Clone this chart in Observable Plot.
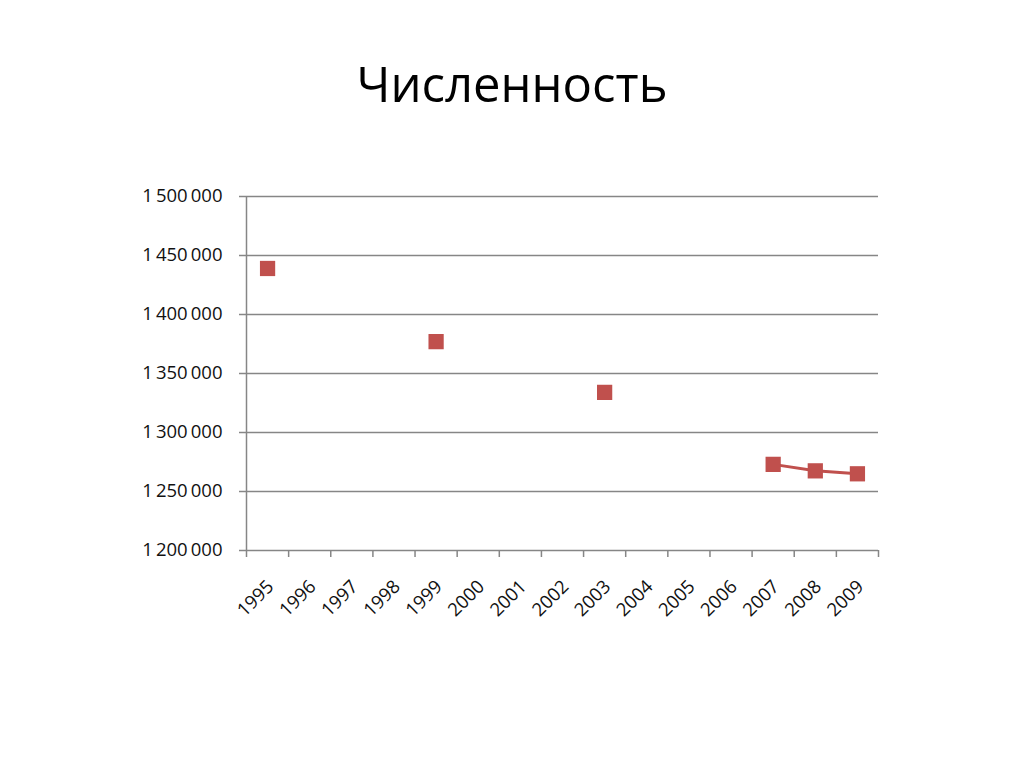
<!DOCTYPE html>
<html>
<head>
<meta charset="utf-8">
<script src="https://cdn.jsdelivr.net/npm/d3@7"></script>
<script src="https://cdn.jsdelivr.net/npm/@observablehq/plot@0.6"></script>
<style>
  html, body { margin: 0; padding: 0; background: #fff; }
  #wrap { width: 1024px; height: 767px; position: relative; overflow: hidden; }
  #title { position: absolute; left: 0; top: 0; width: 1024px; height: 140px; text-align: center;
           font-family: "Open Sans", sans-serif; font-size: 49px; line-height: 1; color: #000; }
  #title span { position: absolute; left: 0; right: 0; top: 59px; }
  #chart { position: absolute; left: 0; top: 140px; }
  #chart svg text { font-size: 18.5px !important; font-family: "Open Sans", sans-serif !important; }
</style>
</head>
<body>
<div id="wrap">
  <div id="title"><span>Численность</span></div>
  <div id="chart"></div>
</div>
<script>
const titleText = "Численность";
const years = [1995, 1996, 1997, 1998, 1999, 2000, 2001, 2002, 2003, 2004, 2005, 2006, 2007, 2008, 2009];
const population = [1439000, null, null, null, 1377000, null, null, null, 1334000, null, null, null, 1273000, 1267500, 1265000];
const yTicks = [1200000, 1250000, 1300000, 1350000, 1400000, 1450000, 1500000];

const data = years.map((year, i) => ({year, value: population[i]}));
const points = data.filter(d => d.value != null);
const boundaries = years.map(y => y - 0.5).concat([years[years.length - 1] + 0.5]);

const fmt = v => d3.format(",")(v).replace(/,/g, "\u2009");
const gray = "#868686";
const red = "#C0504D";

const chart = Plot.plot({
  width: 1024,
  height: 627,
  marginLeft: 246,
  marginRight: 146,
  marginTop: 56,
  marginBottom: 217,
  style: {fontFamily: "'Open Sans', sans-serif", fontSize: "18px", color: "#000", background: "#fff"},
  x: {type: "linear", domain: [boundaries[0], boundaries[boundaries.length - 1]]},
  y: {domain: [yTicks[0], yTicks[yTicks.length - 1]]},
  marks: [
    Plot.ruleY(yTicks, {stroke: gray, strokeWidth: 1.5}),
    Plot.ruleX([boundaries[0]], {stroke: gray, strokeWidth: 1.5}),
    Plot.axisY({ticks: yTicks, tickSize: 7, tickPadding: 17, stroke: gray, strokeWidth: 1.5, fill: "#111",
                tickFormat: fmt, label: null, style: "letter-spacing:0.9px"}),
    Plot.axisX({ticks: boundaries, tickSize: 7, stroke: gray, strokeWidth: 1.5, tickFormat: () => "", label: null}),
    Plot.axisX({ticks: years, tickSize: 0, tickPadding: 33, tickRotate: -45, fill: "#111",
                tickFormat: d => String(d), label: null, dx: 3, style: "letter-spacing:0.6px"}),
    Plot.line(data, {x: "year", y: "value", stroke: red, strokeWidth: 3}),
    Plot.dot(points, {x: "year", y: "value", symbol: "square", r: 8.6, fill: red, stroke: "none"})
  ]
});
document.getElementById("chart").appendChild(chart);
</script>
</body>
</html>
